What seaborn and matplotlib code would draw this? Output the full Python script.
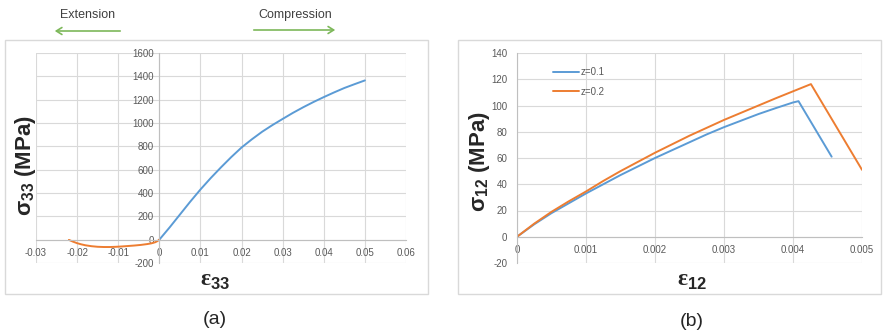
import numpy as np
import pandas as pd
import matplotlib
matplotlib.use("Agg")
import matplotlib.pyplot as plt
from matplotlib.patches import Rectangle, FancyArrowPatch
from matplotlib.ticker import FuncFormatter
import seaborn as sns

# --- datos panel (a) ---
comp_eps = [0, 0.0025, 0.005, 0.0075, 0.01, 0.0125, 0.015, 0.0175, 0.02, 0.0225, 0.025,
            0.0275, 0.03, 0.0325, 0.035, 0.0375, 0.04, 0.0425, 0.045, 0.0475, 0.05]
comp_sig = [0, 105, 215, 325, 430, 528, 620, 708, 790, 860, 925,
            982, 1035, 1087, 1135, 1180, 1222, 1262, 1300, 1333, 1365]
ext_eps = [-0.022, -0.021, -0.020, -0.019, -0.018, -0.0165, -0.015, -0.0135, -0.012, -0.0105,
           -0.009, -0.0075, -0.006, -0.0045, -0.003, -0.002, -0.001, -0.0005, 0]
ext_sig = [-2, -17, -30, -40, -48, -56, -61, -63, -63, -61,
           -58, -54, -50, -45, -38, -32, -22, -13, 0]

# --- datos panel (b) ---
z01_eps = [0, 0.00025, 0.0005, 0.00075, 0.001, 0.00125, 0.0015, 0.00175, 0.002, 0.00225,
           0.0025, 0.00275, 0.003, 0.00325, 0.0035, 0.00375, 0.004, 0.00408, 0.00456]
z01_sig = [0, 9.5, 18, 25.5, 33, 40, 47, 53.5, 60, 66,
           72, 78, 83.5, 88.5, 93.5, 98, 102.3, 103.3, 61]
z02_eps = [0, 0.00025, 0.0005, 0.00075, 0.001, 0.00125, 0.0015, 0.00175, 0.002, 0.00225,
           0.0025, 0.00275, 0.003, 0.00325, 0.0035, 0.00375, 0.004, 0.00426, 0.005]
z02_sig = [0, 10, 19, 27, 34.5, 42.5, 50, 57, 64, 70.5,
           77, 83, 89, 94.5, 100, 105.5, 110.8, 116.3, 51]

xt_a = [-0.03, -0.02, -0.01, 0, 0.01, 0.02, 0.03, 0.04, 0.05, 0.06]
yt_a = [-200, 0, 200, 400, 600, 800, 1000, 1200, 1400, 1600]
xt_b = [0, 0.001, 0.002, 0.003, 0.004, 0.005]
yt_b = [-20, 0, 20, 40, 60, 80, 100, 120, 140]

BLUE = "#5B9BD5"
ORANGE = "#ED7D31"
GREEN = "#7DB85A"
GRID = "#D9D9D9"
TXT = "#595959"

sns.set_style("white")
plt.rcParams["font.family"] = ["Liberation Sans", "DejaVu Sans"]
plt.rcParams["axes.unicode_minus"] = False
plt.rcParams["mathtext.fontset"] = "custom"
plt.rcParams["mathtext.rm"] = "Liberation Sans"
plt.rcParams["mathtext.bf"] = "Liberation Sans:bold"

W, H = 883, 335
fig = plt.figure(figsize=(W / 100, H / 100), dpi=100)


def px(x0, y0, x1, y1):
    # caja en pixeles -> fracciones de figura
    return [x0 / W, (H - y1) / H, (x1 - x0) / W, (y1 - y0) / H]


def estilo(ax, xt, yt):
    ax.set_xticks(xt)
    ax.set_yticks(yt)
    ax.set_xlim(xt[0], xt[-1])
    ax.set_ylim(yt[0], yt[-1])
    ax.xaxis.set_major_formatter(FuncFormatter(lambda v, p: f"{v:g}"))
    ax.grid(True, color=GRID, lw=0.8)
    ax.set_axisbelow(True)
    for s in ["top", "right"]:
        ax.spines[s].set_visible(False)
    ax.spines["left"].set_position(("data", 0))
    ax.spines["bottom"].set_position(("data", 0))
    for s in ["left", "bottom"]:
        ax.spines[s].set_color("#BFBFBF")
        ax.spines[s].set_linewidth(0.8)
    ax.tick_params(axis="both", length=0, labelsize=7, labelcolor=TXT)
    ax.tick_params(axis="x", pad=6)
    ax.tick_params(axis="y", pad=4)
    ax.set_xlabel("")
    ax.set_ylabel("")


# marcos del area de grafico
fig.patches.append(Rectangle((5 / W, (H - 294) / H), 423 / W, 254 / H, transform=fig.transFigure,
                             fill=False, ec=GRID, lw=1))
fig.patches.append(Rectangle((458 / W, (H - 294) / H), 423 / W, 254 / H, transform=fig.transFigure,
                             fill=False, ec=GRID, lw=1))

# --- (a) ---
ax1 = fig.add_axes(px(36, 53, 406, 263))
sns.lineplot(x=comp_eps, y=comp_sig, color=BLUE, lw=1.4, sort=False, estimator=None, ax=ax1)
sns.lineplot(x=ext_eps, y=ext_sig, color=ORANGE, lw=1.4, sort=False, estimator=None, ax=ax1)
estilo(ax1, xt_a, yt_a)

fig.text(26 / W, 1 - 166 / H, r"σ$_\mathbf{33}$ (MPa)", rotation=90, fontsize=16, fontweight="bold",
         ha="center", va="center")
fig.text(215 / W, 1 - 281 / H, r"ε$_\mathbf{33}$", fontsize=17, fontweight="bold",
         family=["Liberation Serif"], ha="center", va="center")
fig.text(215 / W, 1 - 320 / H, "(a)", fontsize=14, ha="center", va="center")

fig.text(88 / W, 1 - 15 / H, "Extension", fontsize=9, color="#404040", ha="center", va="center")
fig.text(295 / W, 1 - 15 / H, "Compression", fontsize=9, color="#404040", ha="center", va="center")
fig.add_artist(FancyArrowPatch((123 / W, 1 - 31 / H), (52 / W, 1 - 31 / H), transform=fig.transFigure,
                               arrowstyle="->,head_length=4,head_width=2.5", color=GREEN, lw=1.2))
fig.add_artist(FancyArrowPatch((251 / W, 1 - 30 / H), (338 / W, 1 - 30 / H), transform=fig.transFigure,
                               arrowstyle="->,head_length=4,head_width=2.5", color=GREEN, lw=1.2))

# --- (b) ---
df_b = pd.DataFrame({
    "eps": z01_eps + z02_eps,
    "sig": z01_sig + z02_sig,
    "z": ["z=0.1"] * len(z01_eps) + ["z=0.2"] * len(z02_eps),
})
ax2 = fig.add_axes(px(517, 53, 862, 263))
sns.lineplot(data=df_b, x="eps", y="sig", hue="z", palette=[BLUE, ORANGE], lw=1.4,
             sort=False, estimator=None, ax=ax2)
estilo(ax2, xt_b, yt_b)
ax2.tick_params(axis="y", pad=7)
leg = ax2.legend(loc="upper left", bbox_to_anchor=(0.08, 0.975), frameon=False, fontsize=7,
                 handlelength=2.6, labelspacing=1.0, handletextpad=0.2)
for t in leg.get_texts():
    t.set_color(TXT)

fig.text(480 / W, 1 - 162 / H, r"σ$_\mathbf{12}$ (MPa)", rotation=90, fontsize=16, fontweight="bold",
         ha="center", va="center")
fig.text(692 / W, 1 - 281 / H, r"ε$_\mathbf{12}$", fontsize=17, fontweight="bold",
         family=["Liberation Serif"], ha="center", va="center")
fig.text(692 / W, 1 - 321 / H, "(b)", fontsize=14, ha="center", va="center")

fig.savefig("out.png", dpi=100)
